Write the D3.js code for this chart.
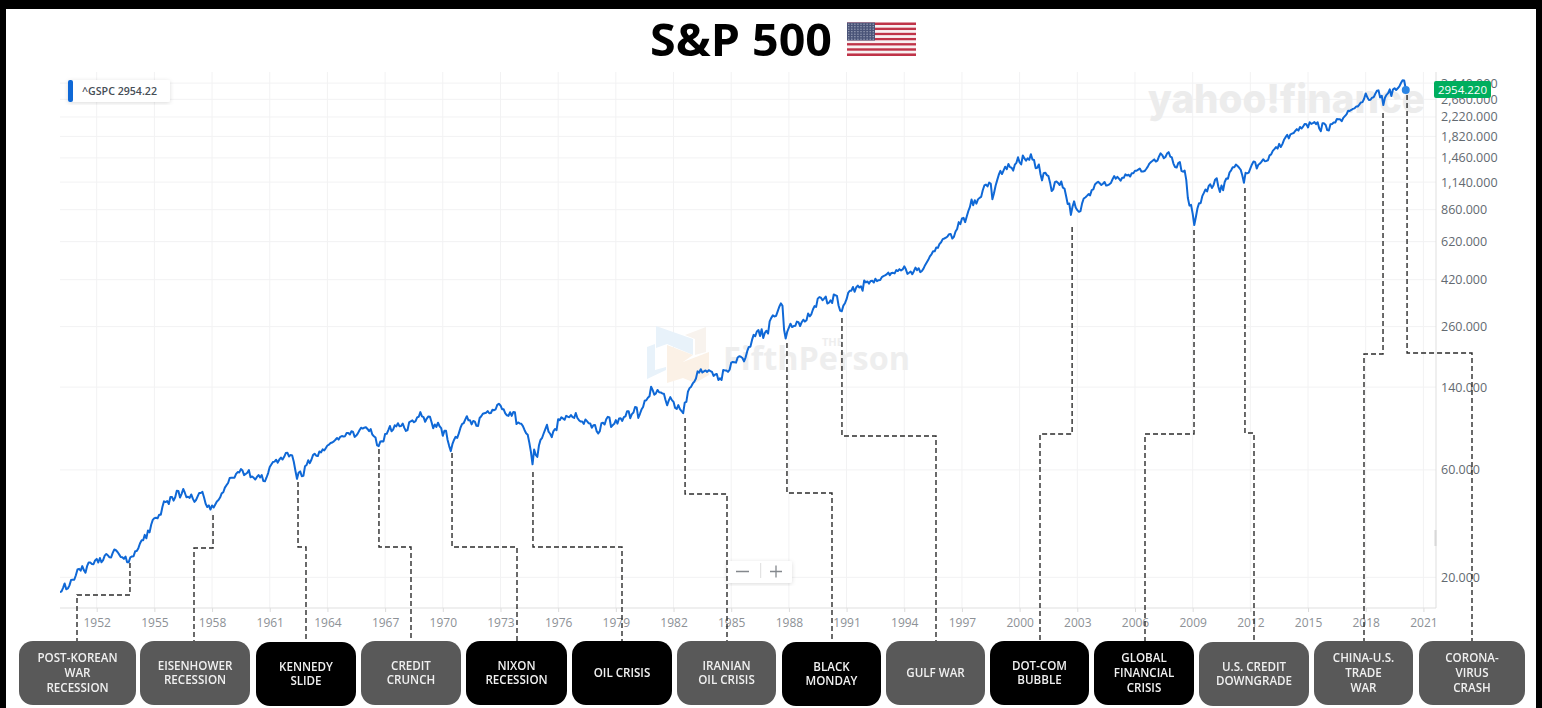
<!DOCTYPE html>
<html>
<head>
<meta charset="utf-8">
<title>S&amp;P 500</title>
<script src="https://cdn.jsdelivr.net/npm/d3@7"></script>
<style>
  html, body { margin: 0; padding: 0; background: #000; overflow: hidden; }
  svg { display: block; filter: blur(0.35px); }
  text { font-family: "Open Sans", "Noto Sans", sans-serif; }
</style>
</head>
<body>
<div id="chart-area"></div>
<script>
// monthly closes, Jan 1950 to Feb 2020
var closes = [
  17.05,17.22,17.29,17.96,18.78,17.69,17.84,18.42,19.45,19.53,19.51,20.43,
  21.66,21.80,21.40,22.43,21.52,20.96,22.40,23.28,23.26,22.94,22.88,23.77,
  24.14,23.26,24.37,23.32,23.86,24.96,25.40,25.03,24.54,24.52,25.66,26.57,
  26.38,25.90,25.29,24.62,24.54,24.14,24.75,23.32,23.35,24.54,24.76,24.81,
  26.08,26.15,26.94,28.26,29.19,29.21,30.88,29.83,32.31,31.68,34.24,35.98,
  36.63,36.76,36.58,37.96,37.91,41.03,43.52,43.18,43.67,42.34,45.51,45.48,
  43.82,45.34,48.48,48.38,45.20,46.97,49.39,47.51,45.35,45.58,45.08,46.67,
  44.72,43.26,44.11,45.74,47.43,47.37,47.91,45.22,42.42,41.06,41.72,39.99,
  41.70,40.84,42.10,43.44,44.09,45.24,47.19,47.75,50.06,51.33,52.48,55.21,
  55.42,55.41,55.44,57.59,58.68,58.47,60.51,59.60,56.88,57.52,58.28,59.89,
  55.61,56.12,55.34,54.37,55.83,56.92,55.51,56.96,53.52,53.39,55.54,58.11,
  61.78,63.44,65.06,65.31,66.56,64.64,66.76,68.07,66.73,68.62,71.32,71.55,
  68.84,69.96,69.55,65.24,59.63,54.75,58.23,59.12,56.27,56.52,62.26,63.10,
  66.20,64.29,66.57,69.80,70.80,69.37,69.13,72.50,71.70,74.01,73.23,75.02,
  77.04,77.80,78.98,79.46,80.37,81.69,83.18,81.83,84.18,84.86,84.42,84.75,
  87.56,87.43,86.16,89.11,88.42,84.12,85.25,87.17,89.96,92.42,91.61,92.43,
  92.88,91.22,89.23,91.06,86.13,84.74,83.60,77.10,76.56,80.20,80.45,80.33,
  86.61,86.78,90.20,94.01,89.08,90.64,94.75,93.64,96.71,93.90,94.00,96.47,
  92.24,89.36,90.20,97.59,98.68,99.58,97.74,98.86,102.67,103.41,108.37,103.86,
  103.01,98.13,101.51,103.69,103.46,97.71,91.83,95.51,93.12,97.24,93.81,92.06,
  85.02,89.50,89.63,81.52,76.55,72.72,78.05,81.52,84.21,83.25,87.20,92.15,
  95.88,96.75,100.31,103.95,99.63,99.70,95.58,99.03,98.34,94.23,93.99,102.09,
  103.94,106.57,107.20,107.67,109.53,107.14,107.39,111.09,110.55,111.58,116.67,118.05,
  116.03,111.68,111.52,106.97,104.95,104.26,108.22,104.25,108.43,108.29,95.96,97.55,
  96.57,96.22,93.98,90.31,87.28,86.00,79.31,72.15,63.54,73.90,69.97,68.56,
  76.98,81.59,83.36,87.30,91.15,95.19,88.75,86.88,83.87,89.04,91.24,90.19,
  100.86,99.71,102.77,101.64,100.18,104.28,103.44,102.91,105.24,102.90,102.10,107.46,
  102.03,99.82,98.42,98.44,96.12,100.48,98.85,96.77,96.53,92.34,94.83,95.10,
  89.25,87.04,89.21,96.83,97.24,95.53,100.68,103.29,102.54,93.15,94.70,96.11,
  99.93,96.28,101.59,101.76,99.08,102.91,103.81,109.32,109.32,101.82,106.16,107.94,
  114.16,113.66,102.09,106.29,111.24,114.24,121.67,122.38,125.46,127.47,140.52,135.76,
  129.55,131.27,136.00,132.81,132.59,131.21,130.92,122.79,116.18,121.89,126.35,122.55,
  120.40,113.11,111.96,116.44,111.88,109.61,107.09,119.51,120.42,133.71,138.54,140.64,
  145.30,148.06,152.96,164.42,162.39,168.11,162.56,164.40,166.07,163.55,166.40,164.93,
  163.41,157.06,159.18,160.05,150.55,153.18,150.66,166.68,166.10,166.09,163.58,167.24,
  179.63,181.18,180.66,179.83,189.55,191.85,190.92,188.63,182.08,189.82,202.17,211.28,
  211.78,226.92,238.90,235.52,247.35,250.84,236.12,252.93,231.32,243.98,249.22,242.17,
  274.08,284.20,291.70,288.36,290.10,304.00,318.66,329.80,321.83,251.79,230.30,247.08,
  257.07,267.82,258.89,261.33,262.16,273.50,272.02,261.52,271.91,278.97,273.70,277.72,
  297.47,288.86,294.87,309.64,320.52,317.98,346.08,351.45,349.15,340.36,345.99,353.40,
  329.08,331.89,339.94,330.80,361.23,358.02,356.15,322.56,306.05,304.00,322.22,330.22,
  343.93,367.07,375.22,375.35,389.83,371.16,387.81,395.43,387.86,392.45,375.22,417.09,
  408.79,412.70,403.69,414.95,415.35,408.14,424.21,414.03,417.80,418.68,431.35,435.71,
  438.78,443.38,451.67,440.19,450.19,450.53,448.13,463.56,458.93,467.83,461.79,466.45,
  481.61,467.14,445.77,450.91,456.50,444.27,458.26,475.49,462.71,472.35,453.69,459.27,
  470.42,487.39,500.71,514.71,533.40,544.75,562.06,561.88,584.41,581.50,605.37,615.93,
  636.02,640.43,645.50,654.17,669.12,670.63,639.95,651.99,687.31,705.27,757.02,740.74,
  786.16,790.82,757.12,801.34,848.28,885.14,954.29,899.47,947.28,914.62,955.40,970.43,
  980.28,1049.34,1101.75,1111.75,1090.82,1133.84,1120.67,957.28,1017.01,1098.67,1163.63,1229.23,
  1279.64,1238.33,1286.37,1335.18,1301.84,1372.71,1328.72,1320.41,1282.71,1362.93,1388.91,1469.25,
  1394.46,1366.42,1498.58,1452.43,1420.60,1454.60,1430.83,1517.68,1436.51,1429.40,1314.95,1320.28,
  1366.01,1239.94,1160.33,1249.46,1255.82,1224.38,1211.23,1133.58,1040.94,1059.78,1139.45,1148.08,
  1130.20,1106.73,1147.39,1076.92,1067.14,989.82,911.62,916.07,815.28,885.76,936.31,879.82,
  855.70,841.15,848.18,916.92,963.59,974.50,990.31,1008.01,995.97,1050.71,1058.20,1111.92,
  1131.13,1144.94,1126.21,1107.30,1120.68,1140.84,1101.72,1104.24,1114.58,1130.20,1173.82,1211.92,
  1181.27,1203.60,1180.59,1156.85,1191.50,1191.33,1234.18,1220.33,1228.81,1207.01,1249.48,1248.29,
  1280.08,1280.66,1294.87,1310.61,1270.09,1270.20,1276.66,1303.82,1335.85,1377.94,1400.63,1418.30,
  1438.24,1406.82,1420.86,1482.37,1530.62,1503.35,1455.27,1473.99,1526.75,1549.38,1481.14,1468.36,
  1378.55,1330.63,1322.70,1385.59,1400.38,1280.00,1267.38,1282.83,1166.36,968.75,896.24,903.25,
  825.88,735.09,797.87,872.81,919.14,919.32,987.48,1020.62,1057.08,1036.19,1095.63,1115.10,
  1073.87,1104.49,1169.43,1186.69,1089.41,1030.71,1101.60,1049.33,1141.20,1183.26,1180.55,1257.64,
  1286.12,1327.22,1325.83,1363.61,1345.20,1320.64,1292.28,1218.89,1131.42,1253.30,1246.96,1257.60,
  1312.41,1365.68,1408.47,1397.91,1310.33,1362.16,1379.32,1406.58,1440.67,1412.16,1416.18,1426.19,
  1498.11,1514.68,1569.19,1597.57,1630.74,1606.28,1685.73,1632.97,1681.55,1756.54,1805.81,1848.36,
  1782.59,1859.45,1872.34,1883.95,1923.57,1960.23,1930.67,2003.37,1972.29,2018.05,2067.56,2058.90,
  1994.99,2104.50,2067.89,2085.51,2107.39,2063.11,2103.84,1972.18,1920.03,2079.36,2080.41,2043.94,
  1940.24,1932.23,2059.74,2065.30,2096.95,2098.86,2173.60,2170.95,2168.27,2126.15,2198.81,2238.83,
  2278.87,2363.64,2362.72,2384.20,2411.80,2423.41,2470.30,2471.65,2519.36,2575.26,2584.84,2673.61,
  2823.81,2713.83,2640.87,2648.05,2705.27,2718.37,2816.29,2901.52,2913.98,2711.74,2760.17,2506.85,
  2704.10,2784.49,2834.40,2945.83,2752.06,2941.76,2980.38,2926.46,2976.74,3037.56,3140.98,3230.78,
  3225.52,2954.22
]
var firstYear = 1950

var yearTicks = [1952, 1955, 1958, 1961, 1964, 1967, 1970, 1973, 1976, 1979, 1982, 1985, 1988, 1991, 1994, 1997, 2000, 2003, 2006, 2009, 2012, 2015, 2018, 2021]
var priceTicks = [20, 60, 140, 260, 420, 620, 860, 1140, 1460, 1820, 2220, 2660, 3140]

var eventLabels = [
  ["POST-KOREAN", "WAR", "RECESSION"],
  ["EISENHOWER", "RECESSION"],
  ["KENNEDY", "SLIDE"],
  ["CREDIT", "CRUNCH"],
  ["NIXON", "RECESSION"],
  ["OIL CRISIS"],
  ["IRANIAN", "OIL CRISIS"],
  ["BLACK", "MONDAY"],
  ["GULF WAR"],
  ["DOT-COM", "BUBBLE"],
  ["GLOBAL", "FINANCIAL", "CRISIS"],
  ["U.S. CREDIT", "DOWNGRADE"],
  ["CHINA-U.S.", "TRADE", "WAR"],
  ["CORONA-", "VIRUS", "CRASH"]
]
// the year each connector leaves the line
var eventYears = [1953.73, 1958.05, 1962.47, 1966.68, 1970.48, 1974.69, 1982.6, 1987.9, 1990.76, 2002.73, 2009.07, 2011.72, 2018.9, 2020.15]

// box and connector layout, one row per event: box left, box right, box top, bend y, start y, box colour
var eventLayout = [
  [19, 136, 641, 595, 563, "#595959"],
  [140, 250, 641, 548, 515, "#595959"],
  [256, 356, 642, 547, 482, "#000"],
  [361, 461, 641, 547, 449, "#595959"],
  [466, 567, 641, 547, 453, "#000"],
  [572, 672, 641, 547, 472, "#000"],
  [677, 776, 641, 494, 418, "#595959"],
  [782, 881, 642, 493, 343, "#000"],
  [886, 985, 641, 436, 318, "#595959"],
  [990, 1089, 641, 434, 227, "#000"],
  [1094, 1194, 641, 434, 230, "#000"],
  [1199, 1309, 642, 433, 188, "#595959"],
  [1314, 1413, 641, 354, 113, "#595959"],
  [1419, 1525, 641, 353, 95, "#595959"]
]
// x where each connector enters its box
var eventDropX = [77, 194, 306, 411, 517, 622, 727, 832, 936, 1040, 1145, 1254, 1364, 1472]

var svg = d3.select("#chart-area")
  .append("svg")
  .attr("width", 1542)
  .attr("height", 708)

// white page inside the black frame
svg.append("rect")
  .attr("x", 6)
  .attr("y", 9)
  .attr("width", 1530)
  .attr("height", 699)
  .attr("fill", "#fff")

var plotLeft = 60
var plotRight = 1436
var plotTop = 72
var plotBottom = 608

var x = d3.scaleLinear()
  .domain([1952, 2021])
  .range([96.7, 1423.4])

var y = d3.scaleLog()
  .domain([20, 2660])
  .range([577.3, 99.3])

var points = closes.map(function(d, i) {
  return { year: firstYear + i / 12, close: d }
})

var defs = svg.append("defs")

defs.append("clipPath")
  .attr("id", "plot-clip")
  .append("rect")
  .attr("x", plotLeft)
  .attr("y", plotTop)
  .attr("width", plotRight - plotLeft)
  .attr("height", plotBottom - plotTop)

// grid
svg.append("g")
  .selectAll("line")
  .data(yearTicks)
  .enter()
  .append("line")
  .attr("x1", d => x(d))
  .attr("x2", d => x(d))
  .attr("y1", plotTop)
  .attr("y2", plotBottom)
  .attr("stroke", "#f2f2f3")

svg.append("g")
  .selectAll("line")
  .data(priceTicks)
  .enter()
  .append("line")
  .attr("x1", plotLeft)
  .attr("x2", plotRight)
  .attr("y1", d => y(d))
  .attr("y2", d => y(d))
  .attr("stroke", "#f2f2f3")

// watermarks
svg.append("text")
  .text("yahoo!finance")
  .attr("x", 1148)
  .attr("y", 113)
  .attr("font-size", "40px")
  .attr("font-weight", 800)
  .style("font-family", "Inter")
  .attr("fill", "#ececec")
  .attr("textLength", 277)
  .attr("lengthAdjust", "spacingAndGlyphs")

var logo = svg.append("g")
logo.append("path").attr("d", "M656 326 L693 339 L693 355 L667 344 L656 348 Z").attr("fill", "#e8f2fa")
logo.append("path").attr("d", "M647 347 L655 344 L655 370 L666 367 L666 370 L647 379 Z").attr("fill", "#e8f2fa")
logo.append("path").attr("d", "M667 345 L693 355 L683 362 L683 378 L667 383 Z").attr("fill", "#fbf1e6")
logo.append("path").attr("d", "M685 335 L706 327 L706 352 L695 355 L695 339 Z").attr("fill", "#f8f3ee")
logo.append("path").attr("d", "M683 362 L709 352 L709 375 L695 383 L683 378 Z").attr("fill", "#fbf1e6")

svg.append("text")
  .text("FifthPerson")
  .attr("x", 723)
  .attr("y", 370)
  .attr("font-size", "33px")
  .attr("font-weight", 700)
  .attr("fill", "#eeeeee")
  .attr("textLength", 187)
  .attr("lengthAdjust", "spacingAndGlyphs")

svg.append("text")
  .text("THE")
  .attr("x", 822)
  .attr("y", 346)
  .attr("font-size", "11px")
  .attr("font-weight", 700)
  .attr("fill", "#eeeeee")

// axes
var xAxisCall = d3.axisBottom(x)
  .tickValues(yearTicks)
  .tickFormat(d => "" + d)
  .tickSize(4)
  .tickPadding(6)

var xAxis = svg.append("g")
  .attr("transform", "translate(0," + plotBottom + ")")
  .call(xAxisCall)
xAxis.select(".domain").remove()
xAxis.selectAll("line").attr("stroke", "#dcdcdc")
xAxis.selectAll("text")
  .attr("font-size", "12px")
  .attr("font-family", "'Open Sans'")
  .attr("fill", "#8d9196")

svg.append("line")
  .attr("x1", plotLeft)
  .attr("x2", plotRight)
  .attr("y1", plotBottom)
  .attr("y2", plotBottom)
  .attr("stroke", "#dfdfdf")

svg.append("line")
  .attr("x1", plotRight)
  .attr("x2", plotRight)
  .attr("y1", plotTop)
  .attr("y2", plotBottom)
  .attr("stroke", "#dfdfdf")

var yAxisCall = d3.axisRight(y)
  .tickValues(priceTicks)
  .tickFormat(d3.format(",.3f"))
  .tickSize(0)
  .tickPadding(5)

var yAxis = svg.append("g")
  .attr("transform", "translate(" + plotRight + ",0)")
  .call(yAxisCall)
yAxis.select(".domain").remove()
yAxis.selectAll("text")
  .attr("font-size", "12.5px")
  .attr("font-family", "'Open Sans'")
  .attr("fill", "#636a71")

// price line
var line = d3.line()
  .x(d => x(d.year))
  .y(d => y(d.close))

svg.append("path")
  .datum(points)
  .attr("d", line)
  .attr("clip-path", "url(#plot-clip)")
  .attr("fill", "none")
  .attr("stroke", "#0f68d6")
  .attr("stroke-width", 2)
  .attr("stroke-linejoin", "round")

var last = points[points.length - 1]

svg.append("circle")
  .attr("cx", x(last.year))
  .attr("cy", y(last.close) + 1)
  .attr("r", 4)
  .attr("fill", "#2b85e4")

// last price badge
svg.append("rect")
  .attr("x", 1434)
  .attr("y", 81)
  .attr("width", 57)
  .attr("height", 17)
  .attr("rx", 2)
  .attr("fill", "#00ae5e")

svg.append("text")
  .text(d3.format(".3f")(last.close))
  .attr("x", 1462.5)
  .attr("y", 93.5)
  .attr("text-anchor", "middle")
  .attr("font-size", "11.5px")
  .attr("fill", "#fff")

// legend chip
var chipShadow = defs.append("filter").attr("id", "chip-shadow")
chipShadow.append("feDropShadow")
  .attr("dx", 0)
  .attr("dy", 1)
  .attr("stdDeviation", 2)
  .attr("flood-opacity", 0.14)

svg.append("rect")
  .attr("x", 68)
  .attr("y", 80)
  .attr("width", 102)
  .attr("height", 22)
  .attr("rx", 2)
  .attr("fill", "#fff")
  .attr("filter", "url(#chip-shadow)")

svg.append("rect")
  .attr("x", 68)
  .attr("y", 80)
  .attr("width", 5)
  .attr("height", 22)
  .attr("rx", 2)
  .attr("fill", "#0f68d6")

svg.append("text")
  .text("^GSPC  " + d3.format(".2f")(last.close))
  .attr("x", 82)
  .attr("y", 95)
  .attr("font-size", "10px")
  .attr("font-weight", 600)
  .attr("fill", "#464e56")
  .attr("textLength", 75)
  .attr("lengthAdjust", "spacingAndGlyphs")

// zoom control
svg.append("rect")
  .attr("x", 727)
  .attr("y", 561)
  .attr("width", 65)
  .attr("height", 22)
  .attr("rx", 2)
  .attr("fill", "#fff")
  .attr("filter", "url(#chip-shadow)")

svg.append("path")
  .attr("d", "M736 571.5 H749 M770 571.5 H782 M776 565.5 V577.5")
  .attr("stroke", "#84888d")
  .attr("stroke-width", 1.3)

svg.append("path")
  .attr("d", "M760.7 563 V578")
  .attr("stroke", "#dddddd")

svg.append("rect")
  .attr("x", 1434.5)
  .attr("y", 530)
  .attr("width", 2)
  .attr("height", 16)
  .attr("fill", "#d8d8d8")

// connectors
var connector = svg.append("g")
  .attr("fill", "none")
  .attr("stroke", "#2b2b2b")
  .attr("stroke-width", 1.4)
  .attr("stroke-dasharray", "5,3")

eventLayout.forEach(function(row, i) {
  var startX = x(eventYears[i])
  var path = d3.path()
  path.moveTo(startX, row[4])
  path.lineTo(startX, row[3])
  path.lineTo(eventDropX[i], row[3])
  path.lineTo(eventDropX[i], row[2])
  connector.append("path").attr("d", path.toString())
})

// event boxes
var boxes = svg.append("g")
  .selectAll("g")
  .data(eventLayout)
  .enter()
  .append("g")

boxes.append("rect")
  .attr("x", d => d[0])
  .attr("y", d => d[2])
  .attr("width", d => d[1] - d[0])
  .attr("height", 64)
  .attr("rx", 14)
  .attr("fill", d => d[5])

boxes.each(function(d, i) {
  var names = eventLabels[i]
  var t = d3.select(this).append("text")
    .attr("text-anchor", "middle")
    .attr("font-size", "11.6px")
    .attr("font-weight", 600)
    .attr("fill", "#f0f0f0")
  names.forEach(function(name, k) {
    t.append("tspan")
      .text(name)
      .attr("x", (d[0] + d[1]) / 2)
      .attr("y", d[2] + 36 + (k - (names.length - 1) / 2) * 14.6)
  })
})

// title and flag
svg.append("text")
  .text("S&P 500")
  .attr("x", 650)
  .attr("y", 56)
  .attr("font-size", "45.5px")
  .attr("font-weight", 700)
  .attr("fill", "#000")
  .attr("textLength", 182)
  .attr("lengthAdjust", "spacingAndGlyphs")

var flag = svg.append("g")
var stripeH = 33.5 / 13
d3.range(13).forEach(function(k) {
  flag.append("rect")
    .attr("x", 847)
    .attr("y", 22.5 + k * stripeH)
    .attr("width", 69)
    .attr("height", stripeH)
    .attr("fill", k % 2 ? "#f8f1f2" : "#bf3348")
})
flag.append("rect")
  .attr("x", 847)
  .attr("y", 22.5)
  .attr("width", 28)
  .attr("height", stripeH * 7)
  .attr("fill", "#4a5478")
d3.range(7).forEach(function(r) {
  d3.range(9).forEach(function(c) {
    flag.append("circle")
      .attr("cx", 848.8 + c * 3.05)
      .attr("cy", 24.2 + r * 2.5)
      .attr("r", 0.6)
      .attr("fill", "#b9bfd0")
  })
})
</script>
</body>
</html>
